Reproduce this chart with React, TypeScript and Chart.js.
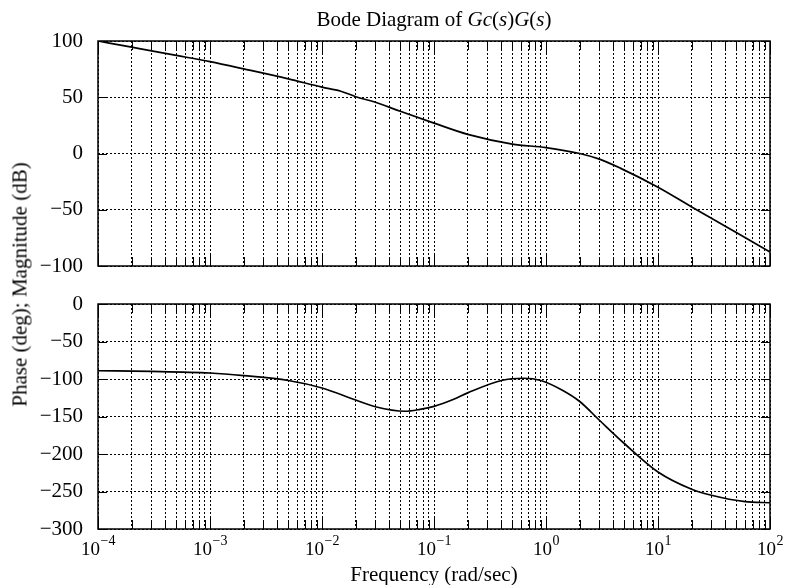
import React, { useEffect, useRef } from 'react';
import { Chart, registerables } from 'chart.js';
Chart.register(...registerables);

const FONT = '"Liberation Serif", "Times New Roman", serif';

// x axis: decades 10^-4 .. 10^2 with minor ticks 2..9
const DECADE_EXPONENTS = [-4, -3, -2, -1, 0, 1, 2];
const MINOR_STEPS = [2, 3, 4, 5, 6, 7, 8, 9];

const MAG_TICKS = [100, 50, 0, -50, -100];
const PHASE_TICKS = [0, -50, -100, -150, -200, -250, -300];

// Magnitude (dB) vs frequency (rad/sec)
const MAG_FREQ = [1e-4, 2e-4, 5e-4, 1e-3, 2e-3, 5e-3, 1e-2, 1.45e-2, 2e-2, 3e-2, 5e-2, 0.1, 0.2, 0.5, 1, 2, 3, 4.6, 10, 20, 30, 50, 100];
const MAG_DB = [100, 94.5, 87.2, 81.6, 75.2, 66.4, 59, 55.6, 50.5, 45.5, 37.5, 27, 17, 8.4, 5.3, 0, -5, -13, -30, -47.5, -57.5, -70.3, -87.5];

// Phase (deg) vs frequency (rad/sec)
const PHASE_FREQ = [1e-4, 3e-4, 1e-3, 2e-3, 5e-3, 1e-2, 2e-2, 3e-2, 5.5e-2, 7.5e-2, 0.1, 0.15, 0.2, 0.4, 0.63, 0.9, 1.4, 2, 3, 5, 10, 20, 30, 60, 100];
const PHASE_DEG = [-89, -89.8, -92, -95.5, -102, -112, -128, -137, -143, -140.5, -136.5, -127, -118.5, -102, -99, -102, -115, -130, -155, -186, -224, -247, -255, -263.5, -265];

const X_TICKS: number[] = [];
DECADE_EXPONENTS.forEach((e, i) => {
  X_TICKS.push(Math.pow(10, e));
  if (i < DECADE_EXPONENTS.length - 1) MINOR_STEPS.forEach((m) => X_TICKS.push(m * Math.pow(10, e)));
});

const isDecade = (v: number) => {
  const l = Math.log10(v);
  return Math.abs(l - Math.round(l)) < 1e-9;
};

const fmtY = (v: number | string) => {
  const n = Number(v);
  return n < 0 ? '\u2212' + Math.abs(n) : String(n);
};

function makePlugin(yTicks: number[], drawXLabels: boolean) {
  return {
    id: 'frameTicks',
    afterDraw(chart: any) {
      const { ctx, chartArea: a, scales } = chart;
      const xs = scales.x;
      const ys = scales.y;
      ctx.save();
      ctx.strokeStyle = '#000';
      ctx.lineWidth = 1;
      ctx.setLineDash([]);
      ctx.beginPath();
      X_TICKS.forEach((v) => {
        const px = Math.round(xs.getPixelForValue(v)) + 0.5;
        const len = isDecade(v) ? 13 : 9;
        ctx.moveTo(px, a.top);
        ctx.lineTo(px, a.top + len);
        ctx.moveTo(px, a.bottom);
        ctx.lineTo(px, a.bottom - len);
      });
      yTicks.forEach((v) => {
        const py = Math.round(ys.getPixelForValue(v)) + 0.5;
        ctx.moveTo(a.left, py);
        ctx.lineTo(a.left + 9, py);
        ctx.moveTo(a.right, py);
        ctx.lineTo(a.right - 9, py);
      });
      ctx.stroke();
      ctx.lineWidth = 1.5;
      ctx.strokeRect(a.left, a.top, a.right - a.left, a.bottom - a.top);

      if (drawXLabels) {
        ctx.fillStyle = '#000';
        ctx.textBaseline = 'alphabetic';
        ctx.textAlign = 'left';
        DECADE_EXPONENTS.forEach((e) => {
          const px = xs.getPixelForValue(Math.pow(10, e));
          const expText = e < 0 ? '\u2212' + Math.abs(e) : String(e);
          ctx.font = `19px ${FONT}`;
          const wb = ctx.measureText('10').width;
          ctx.font = `14px ${FONT}`;
          const we = ctx.measureText(expText).width;
          const x0 = px - (wb + we) / 2;
          ctx.font = `19px ${FONT}`;
          ctx.fillText('10', x0, a.bottom + 26);
          ctx.font = `14px ${FONT}`;
          ctx.fillText(expText, x0 + wb + 0.5, a.bottom + 16);
        });
      }
      ctx.restore();
    },
  };
}

function buildChart(
  canvas: HTMLCanvasElement,
  freq: number[],
  vals: number[],
  yTicks: number[],
  padTop: number,
  xHeight: number,
  drawXLabels: boolean
) {
  const yMin = Math.min(...yTicks);
  const yMax = Math.max(...yTicks);
  return new Chart(canvas, {
    type: 'line',
    data: {
      datasets: [
        {
          data: freq.map((f, i) => ({ x: f, y: vals[i] })),
          borderColor: '#000',
          borderWidth: 1.7,
          pointRadius: 0,
          fill: false,
          cubicInterpolationMode: 'monotone',
        },
      ],
    },
    options: {
      responsive: false,
      animation: false,
      events: [],
      layout: { padding: { top: padTop, right: 15, bottom: 0, left: 0 } },
      plugins: {
        legend: { display: false },
        tooltip: { enabled: false },
        title: { display: false },
      },
      scales: {
        x: {
          type: 'logarithmic',
          min: 1e-4,
          max: 1e2,
          afterBuildTicks: (s: any) => {
            s.ticks = X_TICKS.map((v) => ({ value: v, major: isDecade(v) }));
          },
          afterFit: (s: any) => {
            s.height = xHeight;
          },
          ticks: { display: false },
          grid: { color: '#000', lineWidth: 1, drawTicks: false },
          border: { display: false, dash: [2, 2] },
        },
        y: {
          type: 'linear',
          min: yMin,
          max: yMax,
          afterBuildTicks: (s: any) => {
            s.ticks = yTicks.map((v) => ({ value: v }));
          },
          afterFit: (s: any) => {
            s.width = 98;
          },
          ticks: {
            color: '#000',
            font: { family: FONT, size: 21 },
            padding: 15,
            callback: fmtY,
          },
          grid: { color: '#000', lineWidth: 1, drawTicks: false },
          border: { display: false, dash: [2, 2] },
        },
      },
    },
    plugins: [makePlugin(yTicks, drawXLabels)],
  } as any);
}

export default function App() {
  const topRef = useRef<HTMLCanvasElement>(null);
  const botRef = useRef<HTMLCanvasElement>(null);

  useEffect(() => {
    // top canvas: 0..300, plot 41..266
    const c1 = buildChart(topRef.current!, MAG_FREQ, MAG_DB, MAG_TICKS, 41, 34, false);
    // bottom canvas: 270..585, plot 304..529
    const c2 = buildChart(botRef.current!, PHASE_FREQ, PHASE_DEG, PHASE_TICKS, 34, 56, true);
    return () => {
      c1.destroy();
      c2.destroy();
    };
  }, []);

  return (
    <div
      style={{
        position: 'absolute',
        left: 0,
        top: 0,
        width: 785,
        height: 585,
        background: '#fff',
        fontFamily: FONT,
        color: '#000',
        overflow: 'hidden',
      }}
    >
      <canvas ref={topRef} width={785} height={300} style={{ position: 'absolute', left: 0, top: 0 }} />
      <canvas ref={botRef} width={785} height={315} style={{ position: 'absolute', left: 0, top: 270 }} />
      <div
        style={{
          position: 'absolute',
          left: 98,
          width: 672,
          top: 9,
          textAlign: 'center',
          fontSize: 21,
          lineHeight: '21px',
          whiteSpace: 'nowrap',
        }}
      >
        Bode Diagram of <i>Gc</i>(<i>s</i>)<i>G</i>(<i>s</i>)
      </div>
      <div
        style={{
          position: 'absolute',
          left: 98,
          width: 672,
          top: 564,
          textAlign: 'center',
          fontSize: 21,
          lineHeight: '21px',
          whiteSpace: 'nowrap',
        }}
      >
        Frequency (rad/sec)
      </div>
      <div
        style={{
          position: 'absolute',
          left: 20 - 200,
          top: 284 - 10.5,
          width: 400,
          height: 21,
          textAlign: 'center',
          fontSize: 21,
          lineHeight: '21px',
          whiteSpace: 'nowrap',
          transform: 'rotate(-90deg)',
          transformOrigin: '50% 50%',
        }}
      >
        Phase (deg); Magnitude (dB)
      </div>
    </div>
  );
}
